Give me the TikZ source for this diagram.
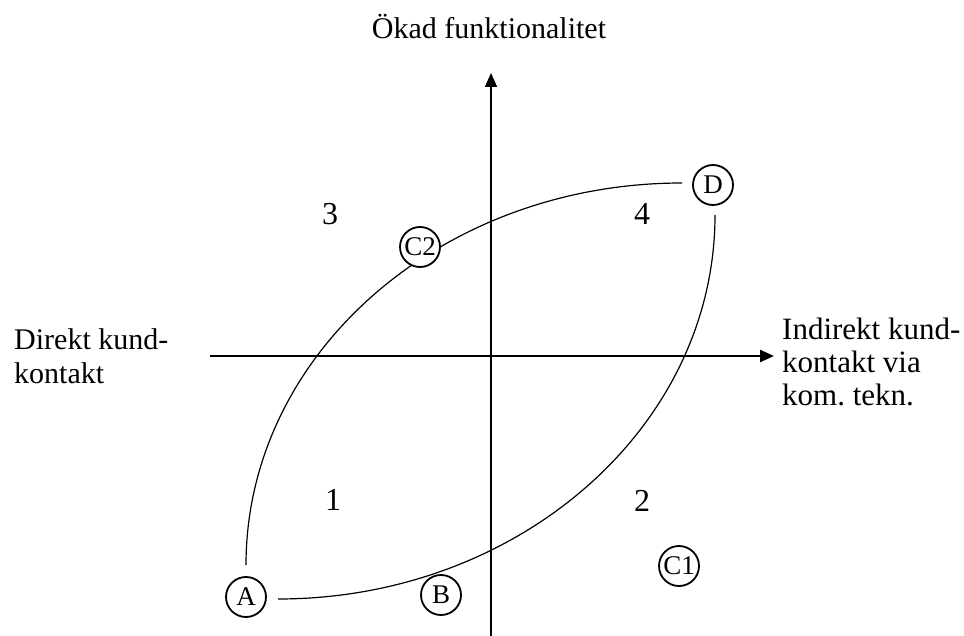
\documentclass[tikz,border=0pt]{standalone}
\usepackage{fontspec}
\setmainfont{Liberation Serif}
\usetikzlibrary{arrows.meta}
\frenchspacing
\begin{document}
\begin{tikzpicture}[x=1pt,y=-1pt,
  lbl/.style={font=\fontsize{30}{34}\selectfont, inner sep=0pt},
  numlbl/.style={font=\fontsize{32}{34}\selectfont, inner sep=0pt},
  circ/.style={circle, draw, line width=1.8pt, minimum size=40pt, inner sep=0pt, fill=white, font=\fontsize{27}{27}\selectfont},
  axisarrow/.style={-{Triangle[length=14pt,width=12pt]}},
  curveline/.style={line width=1.2pt}]
\useasboundingbox (0,0) rectangle (964,636);
% curves
\coordinate (u1) at (246,565);
\coordinate (u2) at (682,183);
\coordinate (l1) at (278,599);
\coordinate (l2) at (715,215);
\draw[curveline] (u1) .. controls (246,354) and (441,183) .. (u2);
\draw[curveline] (l1) .. controls (519,599) and (715,427) .. (l2);
% axes
\coordinate (vb) at (491,636);
\coordinate (vt) at (491,73);
\coordinate (hl) at (210,356);
\coordinate (hr) at (774,356);
\draw[axisarrow, line width=1.6pt] (vb) -- (vt);
\draw[axisarrow, line width=2.4pt] (hl) -- (hr);
% labels
\node[lbl, anchor=base] (title) at (489,39) {Ökad funktionalitet};
\node[lbl, anchor=base west, align=left] (leftlbl) at (14,383) {Direkt kund-\\kontakt};
\node[lbl, font=\fontsize{31}{33}\selectfont, anchor=base west, align=left] (rightlbl) at (782,405) {Indirekt kund-\\kontakt via\\kom.\ tekn.};
\node[numlbl] (q3) at (330,214) {3};
\node[numlbl] (q4) at (642,214) {4};
\node[numlbl] (q1) at (333,500) {1};
\node[numlbl] (q2) at (642,501) {2};
% circles
\node[circ] (A) at (246,597) {A};
\node[circ] (B) at (441,595) {B};
\node[circ] (C1) at (679,566) {C1};
\node[circ] (C2) at (420,247) {C2};
\node[circ] (D) at (713,185) {D};
\end{tikzpicture}
\end{document}
